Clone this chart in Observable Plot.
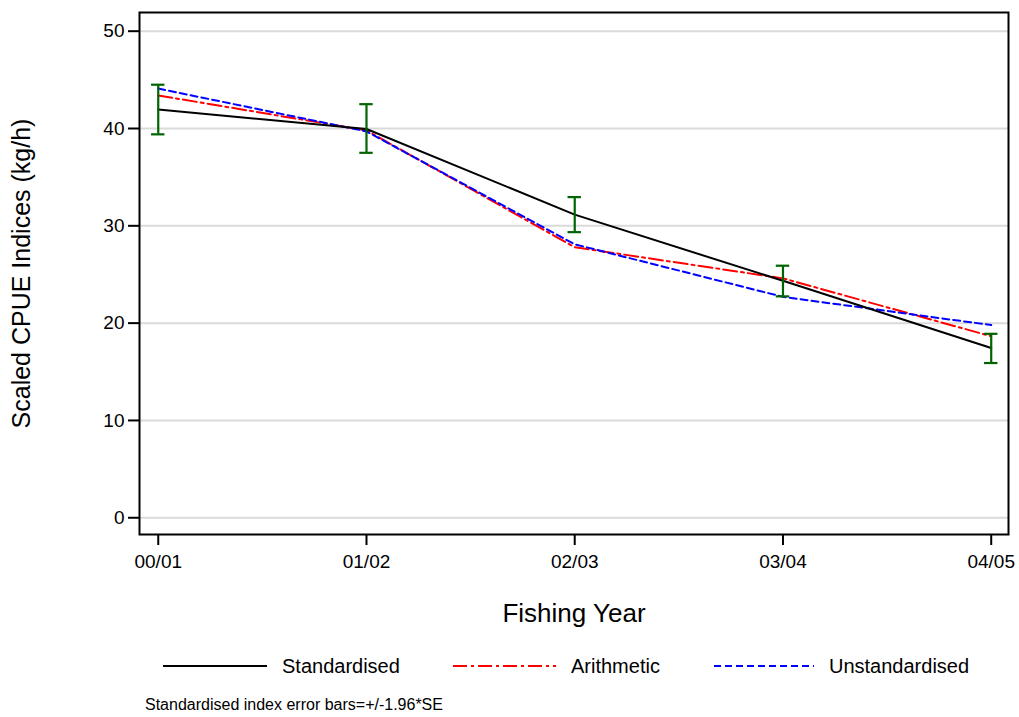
<!DOCTYPE html>
<html>
<head>
<meta charset="utf-8">
<script src="https://cdn.jsdelivr.net/npm/d3@7"></script>
<script src="https://cdn.jsdelivr.net/npm/@observablehq/plot@0.6"></script>
<style>
  body { margin: 0; background: #fff; font-family: "Liberation Sans", Arial, sans-serif; }
  #chart { position: relative; width: 1019px; height: 717px; overflow: hidden; }
  #chart svg { display: block; }
  .legend-item { position: absolute; top: 656px; height: 20px; display: flex; align-items: center; font-size: 20px; line-height: 20px; color: #000; white-space: nowrap; }
  .legend-item svg { margin-right: 15px; }
  .caption { position: absolute; left: 145px; top: 697px; font-size: 16px; line-height: 16px; color: #000; white-space: nowrap; }
</style>
</head>
<body>
<div id="chart"></div>
<script>
// Fishing years on the x axis
const years = ["00/01", "01/02", "02/03", "03/04", "04/05"];

// Standardised CPUE index with its 95% bounds (+/- 1.96*SE)
const standardised = [41.95, 39.95, 31.15, 24.35, 17.45];
const stdLower = [39.4, 37.5, 29.35, 22.75, 15.9];
const stdUpper = [44.5, 42.5, 32.95, 25.9, 18.9];

// Arithmetic and unstandardised indices
const arithmetic = [43.4, 39.8, 27.8, 24.6, 18.65];
const unstandardised = [44.1, 39.7, 28.1, 22.7, 19.8];

const yTicks = [0, 10, 20, 30, 40, 50];

const rows = years.map((year, i) => ({
  i,
  year,
  standardised: standardised[i],
  lower: stdLower[i],
  upper: stdUpper[i],
  arithmetic: arithmetic[i],
  unstandardised: unstandardised[i]
}));

const errColor = "#006400";

const chart = Plot.plot({
  width: 1019,
  height: 645,
  marginTop: 12,
  marginLeft: 139,
  marginRight: 11,
  marginBottom: 111,
  style: { fontFamily: "'Liberation Sans', Arial, sans-serif", background: "#fff", color: "#000" },
  x: { domain: [-0.09, 4.083] },
  y: { domain: [-1.72, 51.92] },
  marks: [
    Plot.gridY(yTicks, { stroke: "#dadada", strokeOpacity: 1, strokeWidth: 2 }),
    Plot.line(rows, { x: "i", y: "arithmetic", stroke: "#ff0000", strokeWidth: 2, strokeDasharray: "14,4,3,4" }),
    Plot.line(rows, { x: "i", y: "unstandardised", stroke: "#0000ff", strokeWidth: 2, strokeDasharray: "7,4" }),
    Plot.line(rows, { x: "i", y: "standardised", stroke: "#000", strokeWidth: 2 }),
    Plot.ruleX(rows, { x: "i", y1: "lower", y2: "upper", stroke: errColor, strokeWidth: 2.2 }),
    Plot.ruleY(rows, { x1: "i", x2: "i", y: "lower", insetLeft: -6.7, insetRight: -6.7, stroke: errColor, strokeWidth: 2.2 }),
    Plot.ruleY(rows, { x1: "i", x2: "i", y: "upper", insetLeft: -6.7, insetRight: -6.7, stroke: errColor, strokeWidth: 2.2 }),
    Plot.frame({ stroke: "#000", strokeWidth: 2 }),
    Plot.axisY(yTicks, { tickSize: 11, tickPadding: 4, fontSize: 19, strokeWidth: 2, label: null }),
    Plot.axisX([0, 1, 2, 3, 4], { tickFormat: (d) => years[d], tickSize: 11, tickPadding: 9, fontSize: 19, strokeWidth: 2, label: null }),
    Plot.text(["Scaled CPUE Indices (kg/h)"], {
      frameAnchor: "left", textAnchor: "middle", lineAnchor: "middle",
      rotate: -90, dx: -118, fontSize: 25, fill: "#000"
    }),
    Plot.text(["Fishing Year"], {
      frameAnchor: "bottom", textAnchor: "middle", lineAnchor: "middle",
      dy: 79, fontSize: 26, fill: "#000"
    })
  ]
});

const root = document.getElementById("chart");
root.appendChild(chart);

// Legend below the plot
const legendItems = [
  { label: "Standardised", color: "#000", dash: null, left: 163, len: 104 },
  { label: "Arithmetic", color: "#ff0000", dash: "14,4,3,4", left: 453, len: 103 },
  { label: "Unstandardised", color: "#0000ff", dash: "7,4", left: 714, len: 100 }
];
for (const item of legendItems) {
  const div = document.createElement("div");
  div.className = "legend-item";
  div.style.left = item.left + "px";
  const dash = item.dash ? ` stroke-dasharray="${item.dash}"` : "";
  div.innerHTML = `<svg width="${item.len}" height="6"><line x1="0" y1="3" x2="${item.len}" y2="3" stroke="${item.color}" stroke-width="2"${dash}/></svg><span>${item.label}</span>`;
  root.appendChild(div);
}

const caption = document.createElement("div");
caption.className = "caption";
caption.textContent = "Standardised index error bars=+/-1.96*SE";
root.appendChild(caption);
</script>
</body>
</html>
